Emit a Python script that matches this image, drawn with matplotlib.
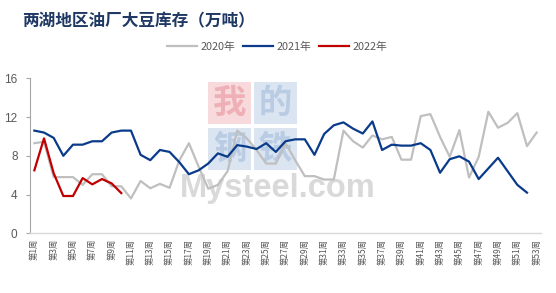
import matplotlib
matplotlib.use("Agg")
import matplotlib.pyplot as plt
from matplotlib.patches import Rectangle

plt.rcParams['font.family'] = ['Noto Sans CJK SC', 'DejaVu Sans']

weeks = list(range(1, 54))
y2020 = [9.3, 9.45, 5.8, 5.8, 5.8, 5.0, 6.1, 6.1, 4.85, 4.85,
         3.6, 5.4, 4.65, 5.1, 4.7, 7.5, 9.3, 6.9, 4.6, 5.0,
         6.4, 10.6, 9.8, 8.6, 7.2, 7.2, 9.3, 7.55, 5.9, 5.9,
         5.55, 5.55, 10.6, 9.5, 8.85, 10.1, 9.7, 9.95, 7.6, 7.6,
         12.1, 12.3, 9.95, 7.9, 10.65, 5.75, 7.9, 12.55, 10.9, 11.4,
         12.4, 9.0, 10.4]
y2021 = [10.6, 10.4, 9.85, 8.0, 9.15, 9.15, 9.5, 9.5, 10.4, 10.6,
         10.6, 8.1, 7.55, 8.6, 8.4, 7.35, 6.1, 6.5, 7.2, 8.25,
         7.9, 9.1, 8.95, 8.7, 9.3, 8.4, 9.5, 9.7, 9.7, 8.1,
         10.25, 11.15, 11.45, 10.8, 10.3, 11.55, 8.6, 9.15, 9.05, 9.05,
         9.3, 8.6, 6.25, 7.65, 7.95, 7.4, 5.6, 6.7, 7.8, 6.4,
         5.0, 4.2]
y2022 = [6.5, 9.8, 6.2, 3.85, 3.85, 5.7, 5.05, 5.6, 5.15, 4.15]
series_names = ['2020年', '2021年', '2022年']
tick_weeks = list(range(1, 54, 2))
tick_labels = ['第%d周' % w for w in tick_weeks]
y_ticks = [0, 4, 8, 12, 16]
title = '两湖地区油厂大豆库存（万吨）'

W, H = 556, 293
fig = plt.figure(figsize=(W / 100, H / 100), dpi=100)
fig.patch.set_facecolor('white')

def fx(px):
    return px / W

def fy(py):
    return 1 - py / H

ax = fig.add_axes([fx(30), fy(233.3), fx(541) - fx(30), fy(78.3) - fy(233.3)])
ax.set_facecolor('none')

# watermark (behind lines)
wm = fig.add_axes([0, 0, 1, 1], zorder=-1)
wm.set_xlim(0, W)
wm.set_ylim(H, 0)
wm.axis('off')
boxes = [(208, 82, '#f8d9dc', '#eeb0b6', '我'),
         (254, 82, '#dbe5f1', '#b9cce4', '的'),
         (208, 128, '#dbe5f1', '#b9cce4', '钢'),
         (254, 128, '#dbe5f1', '#b9cce4', '铁')]
for bx, by, bc, tc, ch in boxes:
    wm.add_patch(Rectangle((bx, by), 43, 42, facecolor=bc, edgecolor='none'))
    wm.text(bx + 21.5, by + 21, ch, fontsize=24, color=tc, ha='center',
            va='center', fontweight='bold')
wm.text(277.5, 197, 'Mysteel.com', fontsize=23.5, color='#d9d9d9', ha='center',
        va='baseline', family='Liberation Sans', fontweight='bold')

c2020, c2021, c2022 = '#bfbfbf', '#0a3b8a', '#c00000'
ax.plot(weeks, y2020, color=c2020, lw=1.6, label=series_names[0], zorder=2)
ax.plot(weeks[:len(y2021)], y2021, color=c2021, lw=1.6, label=series_names[1], zorder=3)
ax.plot(weeks[:len(y2022)], y2022, color=c2022, lw=1.6, label=series_names[2], zorder=4)

ax.set_xlim(0.55, 53.45)
ax.set_ylim(0, 16)
ax.set_yticks(y_ticks)
ax.set_yticklabels([str(v) for v in y_ticks], family='Liberation Sans',
                   fontsize=8.5, color='#595959')
ax.set_xticks(tick_weeks)
ax.set_xticklabels(tick_labels, rotation=90, fontsize=6, color='#595959')
ax.tick_params(axis='x', length=0, pad=4)
ax.tick_params(axis='y', length=3, color='#a6a6a6', width=0.8, pad=6)

for s in ['top', 'right']:
    ax.spines[s].set_visible(False)
ax.spines['left'].set_color('#a6a6a6')
ax.spines['left'].set_linewidth(0.8)
ax.spines['bottom'].set_color('#d9d9d9')
ax.spines['bottom'].set_linewidth(1.0)

fig.text(fx(22), fy(21.5), title, fontsize=12, fontweight='bold',
         color='#1f3864', ha='left', va='center')

leg = fig.legend(loc='center', bbox_to_anchor=(fx(277), fy(47)), ncol=3,
                 frameon=False, fontsize=7.8, handlelength=2.8,
                 handletextpad=0.3, columnspacing=0.7)
for t in leg.get_texts():
    t.set_color('#595959')

fig.savefig('out.png', dpi=100, facecolor='white')
